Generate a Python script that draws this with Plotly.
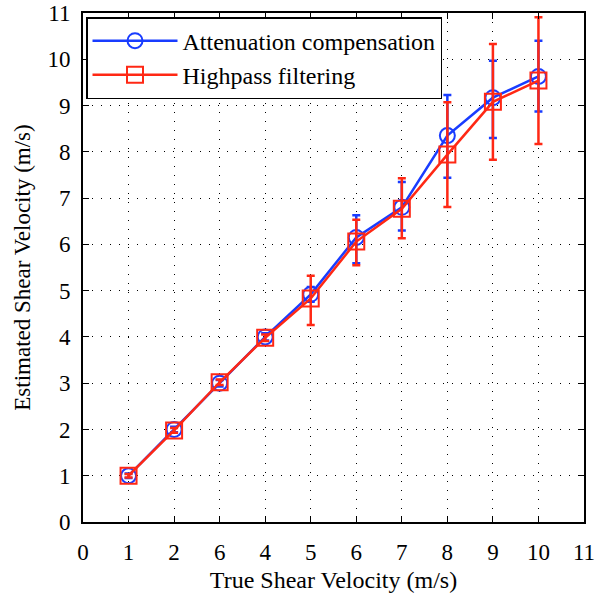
import plotly.graph_objects as go

true_velocity = [1, 2, 3, 4, 5, 6, 7, 8, 9, 10]
x_tick_vals = [0, 1, 2, 3, 4, 5, 6, 7, 8, 9, 10, 11]
x_tick_text = ["0", "1", "2", "6", "4", "5", "6", "7", "8", "9", "10", "11"]
y_tick_vals = [0, 1, 2, 3, 4, 5, 6, 7, 8, 9, 10, 11]

atten_mean = [1.00, 2.00, 3.00, 4.00, 4.92, 6.15, 6.80, 8.35, 9.17, 9.63]
atten_err_plus = [0.05, 0.06, 0.07, 0.08, 0.16, 0.48, 0.55, 0.88, 0.80, 0.77]
atten_err_minus = [0.05, 0.06, 0.07, 0.08, 0.16, 0.56, 0.50, 0.91, 0.87, 0.76]

hp_mean = [1.00, 1.98, 3.02, 3.98, 4.83, 6.06, 6.77, 7.94, 9.08, 9.54]
hp_err_plus = [0.04, 0.05, 0.06, 0.07, 0.49, 0.47, 0.66, 1.13, 1.25, 1.37]
hp_err_minus = [0.04, 0.05, 0.06, 0.07, 0.57, 0.51, 0.64, 1.13, 1.25, 1.37]

BLUE = "rgb(25,60,255)"
RED = "rgb(255,40,20)"
FONT = "'Times New Roman', 'Liberation Serif', Times, serif"

fig = go.Figure()
fig.add_trace(go.Scatter(
    x=true_velocity, y=atten_mean, mode="lines+markers",
    name="Attenuation compensation",
    line=dict(color=BLUE, width=2.5),
    marker=dict(symbol="circle-open", size=15, color=BLUE, line=dict(width=2, color=BLUE)),
    error_y=dict(type="data", array=atten_err_plus, arrayminus=atten_err_minus,
                 color=BLUE, thickness=2.5, width=4),
))
fig.add_trace(go.Scatter(
    x=true_velocity, y=hp_mean, mode="lines+markers",
    name="Highpass filtering",
    line=dict(color=RED, width=2.5),
    marker=dict(symbol="square-open", size=16, color=RED, line=dict(width=2, color=RED)),
    error_y=dict(type="data", array=hp_err_plus, arrayminus=hp_err_minus,
                 color=RED, thickness=2.5, width=4),
))

axis_common = dict(
    showline=True, linecolor="black", linewidth=2, mirror="ticks",
    ticks="inside", ticklen=6, tickcolor="black", tickwidth=1,
    showgrid=True, gridcolor="black", gridwidth=1, griddash="1px,8px",
    zeroline=False, automargin=False,
    tickfont=dict(family=FONT, size=23, color="black"),
)

fig.update_xaxes(
    range=[0, 11], tickvals=x_tick_vals, ticktext=x_tick_text,
    ticklabelstandoff=8,
    title=dict(text="True Shear Velocity (m/s)", font=dict(family=FONT, size=24, color="black"), standoff=8),
    **axis_common,
)
fig.update_yaxes(
    range=[0, 11], tickvals=y_tick_vals,
    ticklabelstandoff=6,
    title=dict(text="Estimated Shear Velocity (m/s)", font=dict(family=FONT, size=23, color="black"), standoff=10),
    **axis_common,
)

fig.update_layout(
    width=610, height=597,
    margin=dict(l=83, r=26, t=13, b=75),
    plot_bgcolor="white", paper_bgcolor="white",
    showlegend=True,
    legend=dict(
        x=0.006, y=0.992, xanchor="left", yanchor="top",
        bgcolor="white", bordercolor="black", borderwidth=1.5,
        font=dict(family=FONT, size=24, color="black"),
        tracegroupgap=0, itemwidth=85,
    ),
)

fig.write_html("out.html")
